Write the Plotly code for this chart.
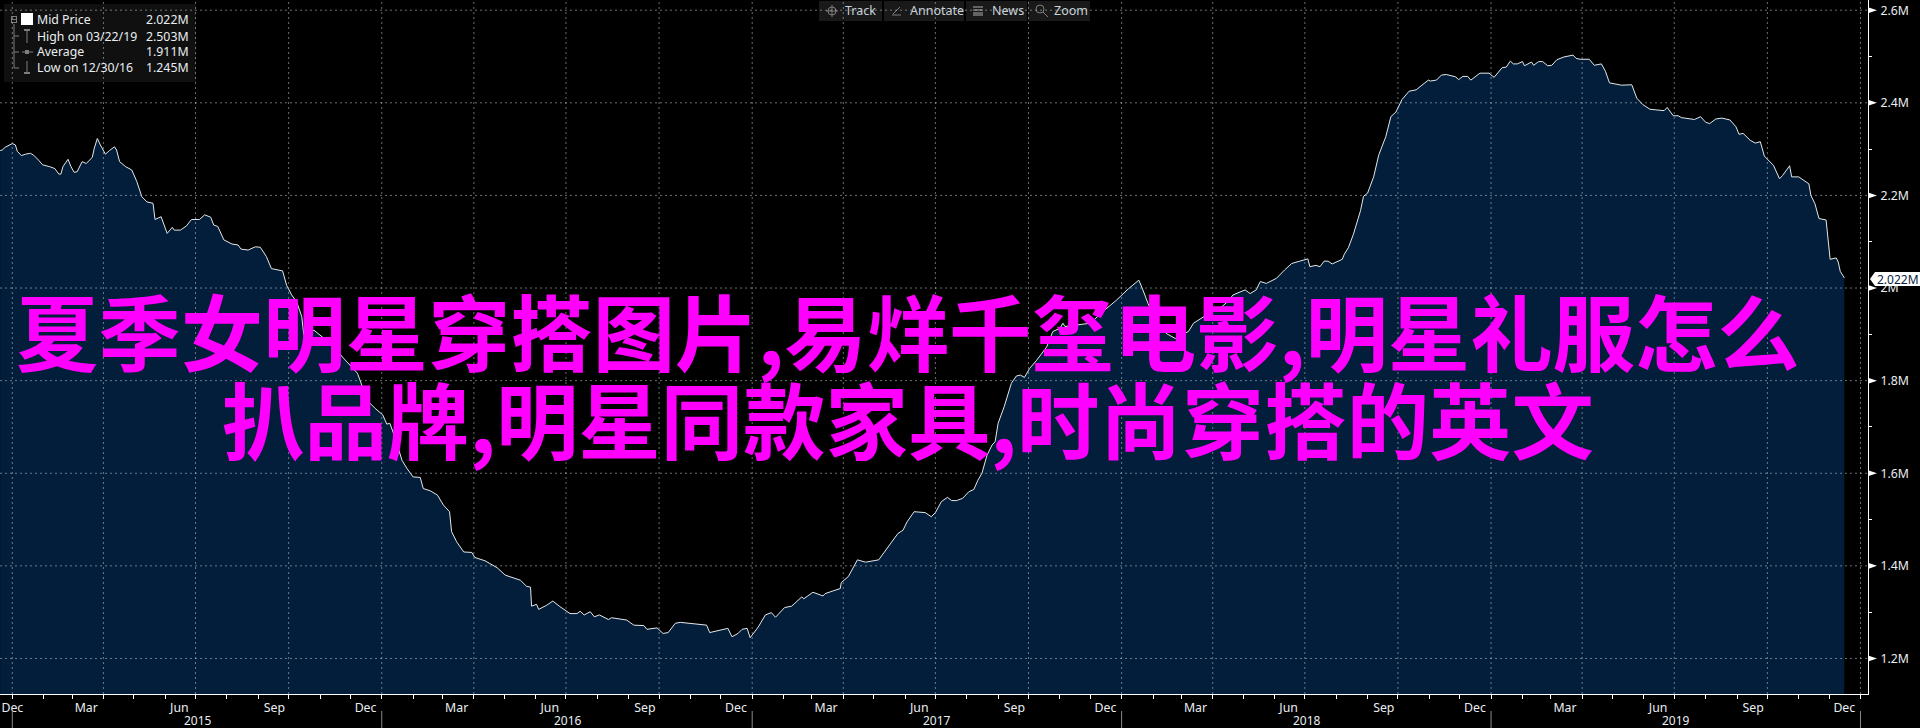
import pandas as pd
import plotly.graph_objects as go

# ---- data ----
START_DATE = "2014-12-31"
day_offsets = [
-12,-10,-7,-4,0,3,5,9,13,18,21,26,30,37,42,46,48,50,55,58,61,64,69,73,79,81,84,87,92,96,101,103,106,112,118,123,128,133,139,141,147,153,158,160,166,172,177,185,190,196,199,203,209,217,223,226,233,240,245,251,256,267,271,276,281,286,
288,298,306,316,327,336,341,346,353,358,366,370,373,378,385,390,396,403,406,413,420,426,432,434,439,446,454,457,467,479,487,502,508,512,513,518,520,528,534,541,551,558,561,565,571,575,580,589,592,607,614,624,627,637,643,648,655,660,675,686,689,707,711,717,721,726,729,732,737,744,750,754,763,770,780,782,791,801,803,811,818,819,826,835,843,856,861,867,875,880,884,891,902,908,912,918,924,928,933,939,945,950,954,958,963,968,971,974,980,987,992,996,1000,1005,1012,1022,1028,1035,1038,1040,1051,1065,1079,1091,1103,1113,1117,1122,1131,1140,1149,1154,1162,1167,1180,1193,1201,1206,1218,1223,1229,1233,1239,1249,1257,1264,
1272,1280,1282,1288,1292,1296,1300,1304,1314,1316,1320,1325,1332,1335,1339,1345,1350,1357,1362,1367,1373,1380,1387,1399,1401,1407,1412,1417,1426,1429,1433,1438,1441,1450,1459,1464,1472,1476,1480,1483,1487,1492,1494,1501,1503,1508,1512,1517,1521,1526,1533,1537,1542,1545,1549,1558,1563,1570,1574,1578,1590,1600,1605,1611,1618,1632,1635,1641,1646,1649,1662,1668,1673,1677,1683,1689,1697,1703,1706,1710,1717,1722,1727,1731,1740,1746,1749,1756,1758,1765,1775,1777,1781,1785,1792,1796,1802,1804,1806,1810]
mid_price = [
2.297,2.298,2.304,2.307,2.312,2.309,2.295,2.286,2.289,2.291,2.287,2.276,2.266,2.262,2.258,2.246,2.246,2.262,2.278,2.262,2.250,2.251,2.273,2.269,2.282,2.302,2.323,2.309,2.289,2.297,2.305,2.298,2.273,2.262,2.255,2.230,2.197,2.186,2.183,2.148,2.154,2.118,2.131,2.125,2.125,2.134,2.148,2.148,2.158,2.153,2.136,2.133,2.104,2.095,2.093,2.084,2.082,2.089,2.088,2.068,2.042,2.037,2.006,1.985,1.970,1.938,
1.898,1.909,1.894,1.877,1.849,1.827,1.816,1.786,1.752,1.741,1.726,1.706,1.708,1.678,1.628,1.610,1.592,1.591,1.567,1.562,1.553,1.531,1.517,1.474,1.452,1.430,1.429,1.418,1.411,1.396,1.380,1.369,1.356,1.354,1.313,1.317,1.306,1.315,1.324,1.312,1.297,1.297,1.302,1.294,1.301,1.290,1.294,1.284,1.288,1.283,1.272,1.271,1.263,1.266,1.254,1.256,1.276,1.278,1.274,1.272,1.256,1.265,1.247,1.254,1.263,1.265,1.245,1.254,1.268,1.294,1.299,1.289,1.310,1.313,1.333,1.329,1.343,1.335,1.340,1.346,1.351,1.364,1.377,1.413,1.408,1.413,1.428,1.445,1.470,1.477,1.495,1.517,1.515,1.506,1.515,1.539,1.548,1.541,1.541,1.546,1.560,1.565,1.585,1.600,1.639,1.661,1.668,1.708,1.744,1.794,1.810,1.812,1.807,1.826,1.844,1.873,1.906,1.913,1.924,1.917,1.920,1.924,1.952,1.974,1.999,2.017,1.996,1.967,1.924,1.902,1.891,1.898,1.906,1.924,1.942,1.956,1.971,1.985,1.996,1.988,1.996,2.014,2.010,2.021,2.039,2.053,
2.058,2.063,2.046,2.049,2.046,2.058,2.058,2.052,2.062,2.073,2.087,2.116,2.167,2.198,2.205,2.240,2.287,2.327,2.370,2.380,2.407,2.425,2.428,2.449,2.447,2.449,2.460,2.461,2.456,2.450,2.457,2.457,2.449,2.464,2.464,2.455,2.476,2.477,2.490,2.484,2.484,2.489,2.480,2.488,2.481,2.489,2.489,2.480,2.481,2.493,2.499,2.501,2.503,2.496,2.494,2.494,2.481,2.484,2.468,2.443,2.438,2.439,2.410,2.396,2.386,2.383,2.390,2.372,2.372,2.368,2.364,2.370,2.358,2.355,2.365,2.367,2.363,2.348,2.332,2.334,2.319,2.313,2.316,2.285,2.265,2.236,2.243,2.264,2.240,2.240,2.225,2.200,2.182,2.150,2.147,2.062,2.065,2.056,2.036,2.022]

price_ticks = [1.2, 1.4, 1.6, 1.8, 2.0, 2.2, 2.4, 2.6]
price_tick_text = ["1.2M", "1.4M", "1.6M", "1.8M", "2M", "2.2M", "2.4M", "2.6M"]
price_minor = [1.3, 1.5, 1.7, 1.9, 2.1, 2.3, 2.5]
quarter_ends = ["2014-12-31","2015-03-31","2015-06-30","2015-09-30","2015-12-31","2016-03-31","2016-06-30","2016-09-30","2016-12-31","2017-03-31","2017-06-30","2017-09-30","2017-12-31","2018-03-31","2018-06-30","2018-09-30","2018-12-31","2019-03-31","2019-06-30","2019-09-30","2019-12-31"]
month_label_dates = ["2014-12-31","2015-03-14","2015-06-14","2015-09-16","2015-12-15","2016-03-14","2016-06-14","2016-09-16","2016-12-15","2017-03-14","2017-06-14","2017-09-16","2017-12-15","2018-03-14","2018-06-14","2018-09-16","2018-12-15","2019-03-14","2019-06-14","2019-09-16","2019-12-15"]
month_labels = ["Dec","Mar","Jun","Sep","Dec","Mar","Jun","Sep","Dec","Mar","Jun","Sep","Dec","Mar","Jun","Sep","Dec","Mar","Jun","Sep","Dec"]
years = ["2015", "2016", "2017", "2018", "2019"]
year_centres = ["2015-07-02", "2016-07-02", "2017-07-02", "2018-07-02", "2019-07-02"]
legend_rows = [("Mid Price", "2.022M"), ("High on 03/22/19", "2.503M"), ("Average", "1.911M"), ("Low on 12/30/16", "1.245M")]
toolbar = ["Track", "Annotate", "News", "Zoom"]
watermark = ["夏季女明星穿搭图片,易烊千玺电影,明星礼服怎么", "扒品牌,明星同款家具,时尚穿搭的英文"]

# ---- geometry ----
W, H, PW, PH = 1920, 728, 1868, 694
px = lambda x: x / PW
py = lambda y: 1 - y / PH
dates = pd.to_datetime(START_DATE) + pd.to_timedelta(day_offsets, unit="D")
month_ends = pd.date_range("2014-12-31", "2020-01-01", freq="ME").strftime("%Y-%m-%d").tolist()

UI = "Noto Sans"
TXT = "#e9eef2"
GREY = "#7d7d7d"
shapes, ann = [], []

def rect(x0, y0, x1, y1, fill):
    shapes.append(dict(type="rect", xref="paper", yref="paper", x0=px(x0), x1=px(x1), y0=py(y0), y1=py(y1),
                       fillcolor=fill, line_width=0, layer="above"))

def seg(x0, y0, x1, y1, color=GREY, w=1):
    shapes.append(dict(type="line", xref="paper", yref="paper", x0=px(x0), x1=px(x1), y0=py(y0), y1=py(y1),
                       line=dict(color=color, width=w), layer="above"))

def label(x, y, s, anchor="left", color=TXT, size=12):
    ann.append(dict(xref="paper", yref="paper", x=px(x), y=py(y), text=s, showarrow=False, xanchor=anchor,
                    yanchor="middle", font=dict(family=UI, size=size, color=color), borderpad=0, borderwidth=0))

# legend panel
rect(4, 4, 196, 82, "#101010")
rect(21, 13, 33, 25, "#ffffff")
seg(14, 24, 14, 68); seg(14, 36, 19, 36); seg(14, 52, 19, 52); seg(14, 68, 19, 68)
rect(11, 16, 17, 17, GREY); rect(11, 22, 17, 23, GREY); rect(11, 16, 12, 23, GREY); rect(16, 16, 17, 23, GREY); rect(12, 19, 16, 20, GREY)
seg(27, 30, 27, 43); seg(24, 30, 30, 30, w=2)
seg(22, 52, 33, 52); rect(25, 50, 29, 54, GREY)
seg(27, 61, 27, 73); seg(24, 73, 30, 73, w=2)
for (name, val), y in zip(legend_rows, [20, 36, 52, 68]):
    label(37, y, name, size=12.3)
    label(189, y, val, anchor="right", size=12.3)

# toolbar
for x0, x1 in [(819, 882), (884, 964), (966, 1027), (1028, 1090)]:
    rect(x0, 1, x1, 21, "#191919")
for s, x in zip(toolbar, [845, 910, 992, 1054]):
    label(x, 11, s, color="#c9d3da", size=12.5)
shapes.append(dict(type="circle", xref="paper", yref="paper", x0=px(828), x1=px(836), y0=py(7), y1=py(15),
                   line=dict(color=GREY, width=1), layer="above"))
seg(826, 11, 838, 11); seg(832, 5, 832, 17)
seg(893, 14, 900, 7); seg(892, 15, 901, 15)
for y in (7, 10, 13, 15):
    seg(973, y, 983, y, w=1.5)
shapes.append(dict(type="circle", xref="paper", yref="paper", x0=px(1036), x1=px(1044), y0=py(5), y1=py(13),
                   line=dict(color=GREY, width=1), layer="above"))
seg(1043, 12, 1048, 17)

# dotted grid, on top of the fill and the panels
GRID = dict(color="rgba(190,200,210,0.55)", width=1, dash="2px,3px")
for q in quarter_ends:
    shapes.append(dict(type="line", xref="x", yref="paper", x0=q, x1=q, y0=0, y1=1, line=GRID, layer="above"))
for v in price_ticks:
    shapes.append(dict(type="line", xref="paper", yref="y", x0=0, x1=1, y0=v, y1=v, line=GRID, layer="above"))
    shapes.append(dict(type="path", xref="paper", yref="y", layer="above", fillcolor="#ffffff", line_width=0,
                       path=f"M {px(1868)},{v+0.0065} L {px(1877)},{v} L {px(1868)},{v-0.0065} Z"))

# year separators and labels
for q in quarter_ends[::4]:
    shapes.append(dict(type="line", xref="x", yref="paper", x0=q, x1=q, y0=py(711), y1=py(728),
                       line=dict(color="#8a8a8a", width=1), layer="above"))
for s, d in zip(years, year_centres):
    ann.append(dict(xref="x", yref="paper", x=d, y=py(720), text=s, showarrow=False, xanchor="center", yanchor="middle",
                    font=dict(family=UI, size=12, color=TXT)))

# last-price flag
shapes.append(dict(type="path", xref="paper", yref="paper", layer="above", fillcolor="#ffffff", line_width=0,
                   path="M {},{} L {},{} L {},{} L {},{} L {},{} Z".format(px(1870), py(279), px(1875), py(272), px(1920), py(272), px(1920), py(286), px(1875), py(286))))
label(1877, 279, "2.022M", color="#0a2342", size=12)

# watermark text
for s, y in zip(watermark, [329, 417]):
    ann.append(dict(xref="paper", yref="paper", x=px(908), y=py(y), text=s, showarrow=False, xanchor="center", yanchor="middle",
                    font=dict(family="Noto Sans CJK SC", size=82.4, color="#ff00ff", weight=700)))

fig = go.Figure(go.Scatter(x=dates, y=mid_price, mode="lines", fill="tozeroy", fillcolor="#021e3a",
                           line=dict(color="#e4e8ea", width=1), hoverinfo="skip"))
fig.update_layout(
    width=W, height=H, margin=dict(l=0, r=W - PW, t=0, b=H - PH, pad=0),
    paper_bgcolor="#000000", plot_bgcolor="#000000", showlegend=False, shapes=shapes, annotations=ann,
    xaxis=dict(type="date", range=["2014-12-18 20:00", "2020-01-07 10:00"], tickmode="array", tickvals=month_label_dates,
               ticktext=month_labels, ticks="outside", ticklen=2, tickcolor="rgba(0,0,0,0)", tickangle=0,
               tickfont=dict(family=UI, size=12.3, color=TXT), showgrid=False, zeroline=False,
               showline=True, linecolor="#ffffff", linewidth=1,
               minor=dict(tickmode="array", tickvals=month_ends, ticks="outside", ticklen=4, tickcolor="#ffffff", tickwidth=1, showgrid=False)),
    yaxis=dict(side="right", range=[1.1233, 2.6220], tickmode="array", tickvals=price_ticks, ticktext=price_tick_text,
               ticks="outside", ticklen=9, tickcolor="rgba(0,0,0,0)", tickfont=dict(family=UI, size=12.3, color=TXT),
               showgrid=False, zeroline=False, showline=True, linecolor="#ffffff", linewidth=1,
               minor=dict(tickmode="array", tickvals=price_minor, ticks="outside", ticklen=3, tickcolor="#ffffff", tickwidth=1, showgrid=False)),
)
fig.write_html("out.html", config={"displayModeBar": False},
               post_script="document.body.style.margin='0';document.documentElement.style.overflow='hidden';")
